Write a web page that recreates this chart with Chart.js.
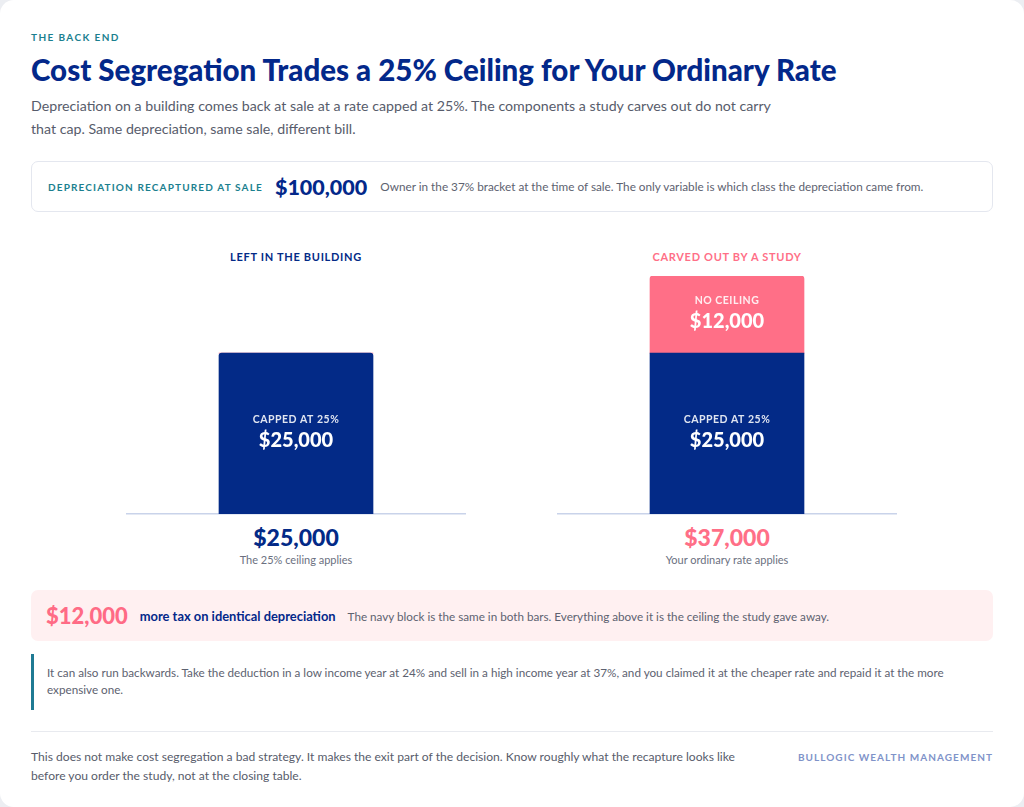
<!DOCTYPE html>
<html>
<head>
<meta charset="utf-8">
<script src="https://cdn.jsdelivr.net/npm/chart.js@4.4.0/dist/chart.umd.min.js"></script>
<style>
html, body { margin: 0; padding: 0; background: #eceef2; }
body { width: 1024px; height: 807px; overflow: hidden; font-family: Lato, "Noto Sans", sans-serif; }
.card { position: relative; width: 1024px; height: 807px; background: #fff; border-radius: 14px; }
.eyebrow { position: absolute; left: 31px; top: 31px; font-size: 10px; font-weight: 700; letter-spacing: 1.4px; color: #1b7f8f; }
h1 { position: absolute; left: 31px; top: 51px; margin: 0; font-size: 29.5px; font-weight: 900; line-height: 38px; color: #03288a; white-space: nowrap; }
.sub { position: absolute; left: 31px; top: 94px; width: 760px; margin: 0; font-size: 14.2px; line-height: 23px; color: #575c6b; }
.info { position: absolute; left: 31px; top: 161px; width: 962px; height: 51px; box-sizing: border-box; border: 1px solid #e4e7ef; border-radius: 7px; display: flex; align-items: center; padding-left: 16px; white-space: nowrap; }
.info .lab { font-size: 10px; font-weight: 700; letter-spacing: 1.15px; color: #1b7f8f; margin-right: 12px; }
.info .big { font-size: 21.5px; font-weight: 900; color: #03288a; margin-right: 13px; }
.info .desc { font-size: 11.75px; color: #5d6270; }
.panel { position: absolute; top: 0; width: 340px; height: 580px; }
.ptitle { position: absolute; left: 0; width: 340px; top: 250px; text-align: center; font-size: 11px; font-weight: 700; letter-spacing: 0.7px; }
.chartbox { position: absolute; left: 0; top: 276px; width: 340px; height: 246px; }
.total { position: absolute; left: 0; width: 340px; top: 522px; text-align: center; font-size: 23px; font-weight: 900; line-height: 30px; }
.cap { position: absolute; left: 0; width: 340px; top: 553px; text-align: center; font-size: 11px; color: #6b7080; }
.callout { position: absolute; left: 31px; top: 590px; width: 962px; height: 51px; box-sizing: border-box; background: #fff0f1; border-radius: 7px; display: flex; align-items: center; padding-left: 15px; white-space: nowrap; }
.callout .big { font-size: 22px; font-weight: 900; color: #ff6b85; margin-right: 12px; }
.callout .what { font-size: 12.9px; font-weight: 700; color: #03288a; margin-right: 12px; }
.callout .desc { font-size: 11.7px; color: #5d6270; }
.quote { position: absolute; left: 31px; top: 654px; width: 962px; height: 56px; box-sizing: border-box; border-left: 3px solid #1f7a93; padding: 10px 20px 0 13px; font-size: 11.7px; line-height: 17px; color: #5d6270; }
.rule { position: absolute; left: 31px; top: 731px; width: 962px; height: 1px; background: #e8eaef; }
.foot { position: absolute; left: 31px; top: 747px; width: 736px; font-size: 12.1px; line-height: 19px; color: #575c6b; }
.brand { position: absolute; right: 31px; top: 751px; font-size: 10px; font-weight: 700; letter-spacing: 1.05px; color: #7f93c9; }
</style>
</head>
<body>
<div class="card">
  <div class="eyebrow">THE BACK END</div>
  <h1>Cost Segregation Trades a 25% Ceiling for Your Ordinary Rate</h1>
  <p class="sub">Depreciation on a building comes back at sale at a rate capped at 25%. The components a study carves out do not carry that cap. Same depreciation, same sale, different bill.</p>
  <div class="info">
    <span class="lab">DEPRECIATION RECAPTURED AT SALE</span>
    <span class="big" id="recap"></span>
    <span class="desc">Owner in the 37% bracket at the time of sale. The only variable is which class the depreciation came from.</span>
  </div>
  <div id="panels"></div>
  <div class="callout">
    <span class="big" id="diff"></span>
    <span class="what">more tax on identical depreciation</span>
    <span class="desc">The navy block is the same in both bars. Everything above it is the ceiling the study gave away.</span>
  </div>
  <div class="quote">It can also run backwards. Take the deduction in a low income year at 24% and sell in a high income year at 37%, and you claimed it at the cheaper rate and repaid it at the more expensive one.</div>
  <div class="rule"></div>
  <div class="foot">This does not make cost segregation a bad strategy. It makes the exit part of the decision. Know roughly what the recapture looks like before you order the study, not at the closing table.</div>
  <div class="brand">BULLOGIC WEALTH MANAGEMENT</div>
</div>
<script>
const NAVY = "#032a87";
const PINK = "#ff6f87";

// data
const recaptured = 100000;
const panelTitles = ["LEFT IN THE BUILDING", "CARVED OUT BY A STUDY"];
const panelCaptions = ["The 25% ceiling applies", "Your ordinary rate applies"];
const segmentNames = ["Capped at 25%", "No ceiling"];
const cappedValues = [25000, 25000];
const noCeilingValues = [0, 12000];

const panelLeft = [126, 557];
const panelColors = [NAVY, PINK];

const fmt = (v) => "$" + v.toLocaleString("en-US");
const totals = cappedValues.map((v, i) => v + noCeilingValues[i]);
const yMax = Math.max(...totals);

document.getElementById("recap").textContent = fmt(recaptured);
document.getElementById("diff").textContent = fmt(totals[1] - totals[0]);

// labels inside the bar segments
const barText = {
    id: "barText",
    afterDatasetsDraw(chart) {
        const ctx = chart.ctx;
        chart.data.datasets.forEach((ds, di) => {
            const meta = chart.getDatasetMeta(di);
            meta.data.forEach((bar, j) => {
                const v = ds.data[j];
                if (!v) return;
                const cy = (bar.y + bar.base) / 2;
                ctx.save();
                ctx.textAlign = "center";
                ctx.textBaseline = "middle";
                ctx.fillStyle = "rgba(255,255,255,0.88)";
                ctx.font = "700 10.5px Lato";
                ctx.letterSpacing = "0.5px";
                ctx.fillText(ds.label.toUpperCase(), bar.x, cy - 14);
                ctx.letterSpacing = "0px";
                ctx.fillStyle = "#fff";
                ctx.font = "900 20px Lato";
                ctx.fillText(fmt(v), bar.x, cy + 7);
                ctx.restore();
            });
        });
    },
};

const holder = document.getElementById("panels");
panelTitles.forEach((title, i) => {
    const p = document.createElement("div");
    p.className = "panel";
    p.style.left = panelLeft[i] + "px";
    p.innerHTML =
        '<div class="ptitle" style="color:' + panelColors[i] + '">' + title + "</div>" +
        '<div class="chartbox"><canvas></canvas></div>' +
        '<div class="total" style="color:' + panelColors[i] + '">' + fmt(totals[i]) + "</div>" +
        '<div class="cap">' + panelCaptions[i] + "</div>";
    holder.appendChild(p);

    new Chart(p.querySelector("canvas"), {
        type: "bar",
        data: {
            labels: [title],
            datasets: [
                { label: segmentNames[0], data: [cappedValues[i]], backgroundColor: NAVY, barThickness: 154, borderRadius: 3 },
                { label: segmentNames[1], data: [noCeilingValues[i]], backgroundColor: PINK, barThickness: 154, borderRadius: 3 },
            ],
        },
        options: {
            responsive: true,
            maintainAspectRatio: false,
            animation: false,
            layout: { padding: 0 },
            plugins: { legend: { display: false }, tooltip: { enabled: false } },
            scales: {
                x: {
                    stacked: true,
                    grid: { display: false },
                    ticks: { display: false },
                    border: { display: true, color: "#c9d3ea", width: 1.5 },
                },
                y: { stacked: true, display: false, min: 0, max: yMax },
            },
        },
        plugins: [barText],
    });
});
</script>
</body>
</html>
